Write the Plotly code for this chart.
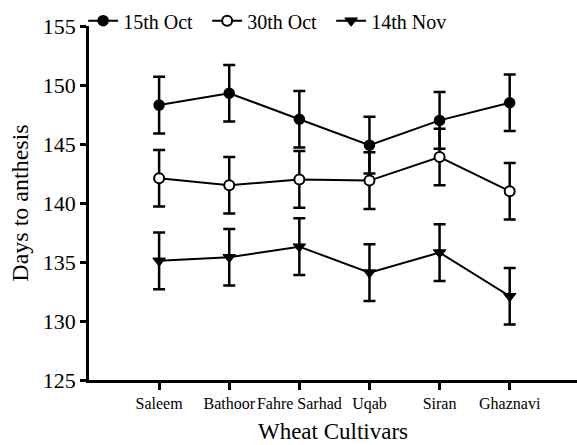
import plotly.graph_objects as go

# Wheat cultivars on the x axis
cultivars = ["Saleem", "Bathoor", "Fahre Sarhad", "Uqab", "Siran", "Ghaznavi"]

# Days to anthesis per sowing date
oct15 = [148.3, 149.3, 147.1, 144.9, 147.0, 148.5]
oct30 = [142.1, 141.5, 142.0, 141.9, 143.9, 141.0]
nov14 = [135.1, 135.4, 136.3, 134.1, 135.8, 132.1]

# Error bar half-lengths
err15 = [2.4, 2.4, 2.4, 2.4, 2.4, 2.4]
err30 = [2.4, 2.4, 2.4, 2.4, 2.4, 2.4]
err14 = [2.4, 2.4, 2.4, 2.4, 2.4, 2.4]

series = [
    ("15th Oct", oct15, err15, dict(symbol="circle", color="black", size=10,
                                    line=dict(color="black", width=1.5))),
    ("30th Oct", oct30, err30, dict(symbol="circle", color="white", size=10,
                                    line=dict(color="black", width=2))),
    ("14th Nov", nov14, err14, dict(symbol="triangle-down", color="black", size=11,
                                    line=dict(color="black", width=1))),
]

fig = go.Figure()
xs = list(range(len(cultivars)))
for name, vals, err, marker in series:
    fig.add_trace(go.Scatter(
        x=xs, y=vals, name=name, mode="lines+markers",
        line=dict(color="black", width=2),
        marker=marker,
        error_y=dict(type="data", array=err, visible=True,
                     color="black", thickness=2.5, width=6),
    ))

serif = "Liberation Serif"


def tfont(size):
    return dict(family=serif, size=size, color="black")


fig.update_layout(
    width=577, height=445,
    margin=dict(l=89, r=0, t=26, b=65),
    paper_bgcolor="white", plot_bgcolor="white",
    font=tfont(18),
    showlegend=True,
    legend=dict(
        orientation="h", x=-0.012, xanchor="left", y=1.015, yanchor="middle",
        font=tfont(20),
        itemwidth=30, entrywidth=79, entrywidthmode="pixels",
        bgcolor="rgba(0,0,0,0)", tracegroupgap=0,
    ),
    xaxis=dict(
        range=[-1, 5.96], tickmode="array", tickvals=xs, ticktext=cultivars,
        tickangle=0,
        showline=True, linecolor="black", linewidth=2.5,
        ticks="outside", ticklen=7, tickwidth=2.5, tickcolor="black",
        showgrid=False, zeroline=False,
        title=dict(text="Wheat Cultivars", font=tfont(23), standoff=11),
        tickfont=tfont(16),
    ),
    yaxis=dict(
        range=[125, 155], tickmode="array", tickvals=[125, 130, 135, 140, 145, 150, 155],
        showline=True, linecolor="black", linewidth=2.5,
        ticks="outside", ticklen=6, tickwidth=2.5, tickcolor="black",
        showgrid=False, zeroline=False,
        title=dict(text="Days to anthesis", font=tfont(24), standoff=8),
        tickfont=tfont(22),
    ),
)

fig.write_html("out.html")
